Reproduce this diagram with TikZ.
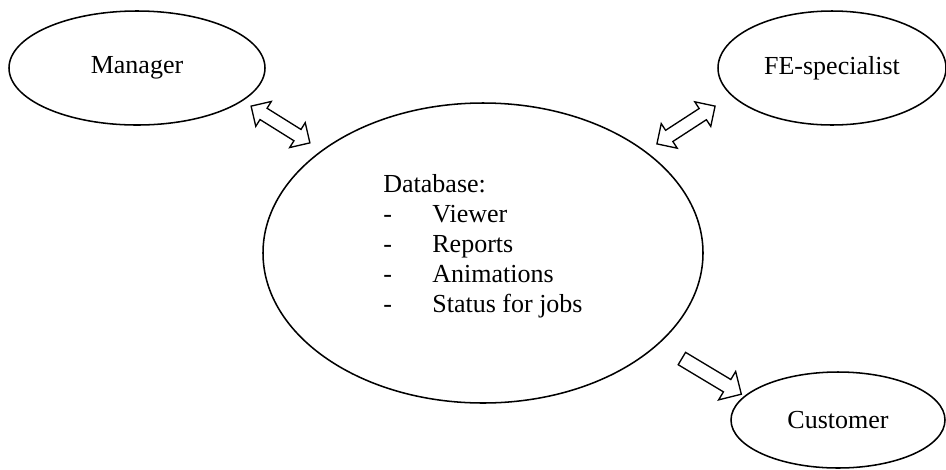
\documentclass[tikz,border=0pt]{standalone}
\usepackage{fontspec}
\setmainfont{Liberation Serif}
\usepackage{tikz}
\usetikzlibrary{shapes.geometric, shapes.arrows}

\begin{document}
\begin{tikzpicture}[x=0.75pt, y=-0.75pt,
        bubble/.style={ellipse, draw, line width=1.15pt, inner sep=0pt, font=\fontsize{19.5}{22.5}\selectfont},
        twoway/.style={double arrow, draw, line width=1pt, minimum width=0pt, inner xsep=0pt, inner ysep=4.5pt, double arrow head extend=6pt, minimum height=52pt},
        oneway/.style={single arrow, draw, line width=1pt, minimum width=0pt, inner xsep=0pt, inner ysep=4.9pt, single arrow head extend=7pt, minimum height=52pt}]
        \useasboundingbox (0,0) rectangle (946,469);

        % the three users
        \node[bubble, minimum width=192pt, minimum height=85.5pt] (mgr) at (137,68) {Manager};
        \node[bubble, minimum width=171pt, minimum height=85.5pt] (fe) at (832,68) {FE-specialist};
        \node[bubble, minimum width=160.5pt, minimum height=72pt] (cust) at (838,420) {Customer};

        % the database in the middle
        \node[bubble, minimum width=330pt, minimum height=225pt] (db) at (483,253) {%
            \begin{tabular}{@{}p{36.75pt}@{}l@{}}
                \multicolumn{2}{@{}l@{}}{Database:}\\
                -& Viewer\\
                -& Reports\\
                -& Animations\\
                -& Status for jobs\rule[-17.25pt]{0pt}{17.25pt}
            \end{tabular}};

        % block arrows
        \node[twoway, rotate=-32] (mgrdb) at (280.5,124.5) {};
        \node[twoway, rotate=33] (fedb) at (686,125) {};
        \node[oneway, rotate=-31] (dbcust) at (708.5,374.5) {};
    \end{tikzpicture}
\end{document}
